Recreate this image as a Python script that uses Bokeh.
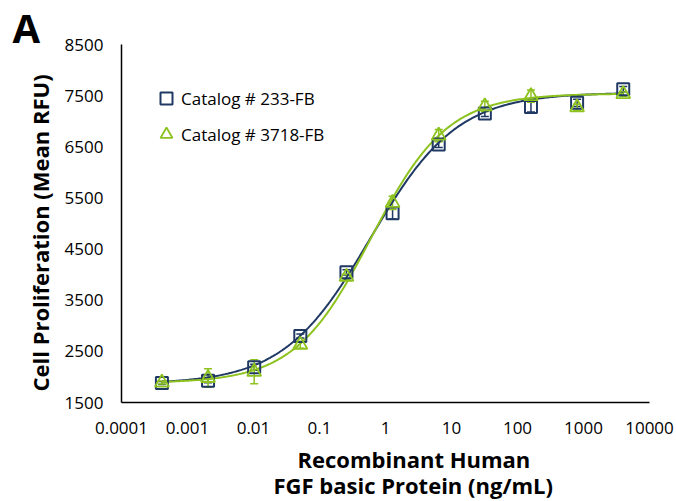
import numpy as np
from bokeh.plotting import figure
from bokeh.models import (Range1d, FixedTicker, ColumnDataSource, Whisker, TeeHead,
                          Title, Legend, LegendItem)
from bokeh.embed import file_html
from bokeh.resources import INLINE

# ---- data ----
conc = [0.0004096, 0.002048, 0.01024, 0.0512, 0.256, 1.28, 6.4, 32, 160, 800, 4000]  # ng/mL, 5-fold dilution
rfu_233 = [1880, 1925, 2190, 2800, 4045, 5200, 6546, 7152, 7280, 7360, 7627]
sd_233 = [30, 40, 60, 40, 50, 110, 60, 60, 100, 70, 50]
rfu_3718 = [1890, 1980, 2100, 2630, 3960, 5405, 6720, 7290, 7490, 7270, 7530]
sd_3718 = [30, 180, 235, 70, 50, 130, 120, 100, 120, 60, 40]

# four-parameter logistic fit parameters of the drawn curves: bottom, top, EC50, Hill slope
fit_233 = [1860, 7560, 0.59, 0.66]
fit_3718 = [1880, 7540, 0.60, 0.75]

series_labels = ["Catalog # 233-FB", "Catalog # 3718-FB"]
x_ticks = [0.0001, 0.001, 0.01, 0.1, 1, 10, 100, 1000, 10000]
x_tick_labels = ["0.0001", "0.001", "0.01", "0.1", "1", "10", "100", "1000", "10000"]
y_ticks = [1500, 2500, 3500, 4500, 5500, 6500, 7500, 8500]
y_tick_labels = ["1500", "2500", "3500", "4500", "5500", "6500", "7500", "8500"]
x_title = ["Recombinant Human", "FGF basic Protein (ng/mL)"]
y_title = "Cell Proliferation (Mean RFU)"
panel_letter = "A"

NAVY = "#1F3864"
GREEN = "#8DC21F"
FONT = "Open Sans"


def four_pl(x, params):
    b, t, c, h = params
    x = np.asarray(x, dtype=float)
    return b + (t - b) / (1.0 + (c / x) ** h)


p = figure(width=676, height=501, x_axis_type="log",
           x_range=Range1d(1e-4, 1e4), y_range=Range1d(1500, 8500),
           output_backend="svg", toolbar_location=None,
           min_border_left=121, min_border_right=27, min_border_top=44, min_border_bottom=99)
p.xgrid.visible = False
p.ygrid.visible = False
p.outline_line_color = None
p.background_fill_color = "white"
p.border_fill_color = "white"

xa = p.xaxis[0]
ya = p.yaxis[0]
xa.ticker = FixedTicker(ticks=x_ticks, minor_ticks=[])
xa.major_label_overrides = {v: s for v, s in zip(x_ticks, x_tick_labels)}
ya.ticker = FixedTicker(ticks=y_ticks, minor_ticks=[])
ya.major_label_overrides = {v: s for v, s in zip(y_ticks, y_tick_labels)}
for ax in (xa, ya):
    ax.axis_line_color = "black"
    ax.axis_line_width = 1.5
    ax.major_tick_line_color = None
    ax.minor_tick_line_color = None
    ax.major_tick_out = 0
    ax.major_tick_in = 0
    ax.minor_tick_out = 0
    ax.major_label_text_font = FONT
    ax.major_label_text_font_size = "17px"
    ax.major_label_text_color = "#000000"
xa.major_label_standoff = 19
ya.major_label_standoff = 18

# fitted curves
x_fit = np.logspace(np.log10(conc[0]), np.log10(conc[-1]), 300)
p.line(x_fit, four_pl(x_fit, fit_233), line_color=NAVY, line_width=2)
p.line(x_fit, four_pl(x_fit, fit_3718), line_color=GREEN, line_width=2)

# error bars
for rfu, sd, col in ((rfu_233, sd_233, NAVY), (rfu_3718, sd_3718, GREEN)):
    src = ColumnDataSource(dict(x=conc,
                                upper=[m + s for m, s in zip(rfu, sd)],
                                lower=[m - s for m, s in zip(rfu, sd)]))
    w = Whisker(base="x", upper="upper", lower="lower", source=src,
                line_color=col, line_width=1.5,
                upper_head=TeeHead(size=8, line_color=col, line_width=1.5),
                lower_head=TeeHead(size=8, line_color=col, line_width=1.5))
    p.add_layout(w)

sq = p.scatter(conc, rfu_233, marker="square", size=12, fill_color=None,
               line_color=NAVY, line_width=2)
tri = p.scatter(conc, rfu_3718, marker="triangle", size=14, fill_color=None,
                line_color=GREEN, line_width=1.8)

legend = Legend(items=[LegendItem(label=series_labels[0], renderers=[sq]),
                       LegendItem(label=series_labels[1], renderers=[tri])],
                location=(30, 253), glyph_width=30, glyph_height=30,
                label_standoff=0, spacing=6, padding=0, margin=0,
                border_line_color=None, background_fill_alpha=0,
                label_text_font=FONT, label_text_font_size="17px",
                label_text_color="#000000")
p.add_layout(legend)

# axis titles and panel letter as side-panel titles
def make_title(text, size, align, offset, standoff):
    return Title(text=text, align=align, offset=offset, standoff=standoff,
                 text_font=FONT, text_font_size=size, text_font_style="bold",
                 text_color="#000000")

p.add_layout(make_title(y_title, "22px", "left", 11, 13), "left")
p.add_layout(make_title(x_title[0], "22px", "left", 176, 11), "below")
p.add_layout(make_title(x_title[1], "22px", "left", 152, -24), "below")
p.add_layout(make_title(panel_letter, "40px", "left", -109, -20), "above")

open("out.html", "w").write(file_html(p, INLINE))
